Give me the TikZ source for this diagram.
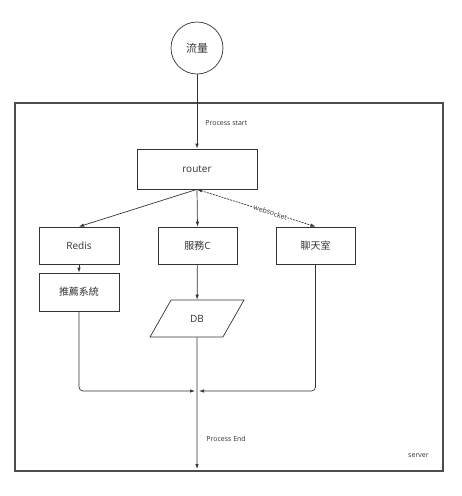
\documentclass[tikz,border=0pt]{standalone}
\usepackage{fontspec}
\setmainfont{Open Sans}
\newfontfamily\cjk{Noto Sans CJK TC}
\usetikzlibrary{shapes.geometric,arrows.meta}

\begin{document}
\begin{tikzpicture}[x=1pt,y=-1pt,
  line width=0.7pt, draw=black!80, >={Latex[length=5pt,width=3.5pt]},
  box/.style={draw=black!80, rectangle, minimum width=80, minimum height=37, font=\fontsize{10}{12}\selectfont, text=black!80},
  note/.style={font=\fontsize{7}{8}\selectfont, text=black!80, inner sep=0pt}]
\useasboundingbox (0,0) rectangle (462,496);
% server frame:
\draw[line width=1.3pt, black!70] (15,103) rectangle (443,471);
\node[note, anchor=east] (srv) at (429,456) {server};
% entry:
\node[draw=black!80, circle, minimum size=52, font=\cjk\fontsize{11}{12}\selectfont, text=black!80] (flow) at (197,48) {流量};
\node[box, minimum width=120, minimum height=40] (router) at (197,169) {router};
\node[note, anchor=west] (pstart) at (205,123) {Process start};
% services:
\node[box] (redis) at (79,245.5) {Redis};
\node[box, minimum width=79] (svc) at (197.5,245.5) {\cjk 服務\rmfamily C};
\node[box, minimum width=79] (chat) at (315.5,245.5) {\cjk 聊天室};
\node[box, minimum height=38] (rec) at (79,292) {\cjk 推薦系統};
\node[draw=black!80, trapezium, trapezium left angle=59, trapezium right angle=121, trapezium stretches=true, minimum width=94, minimum height=37, font=\fontsize{10}{12}\selectfont, text=black!80] (db) at (197,318.5) {DB};
% exit:
\coordinate (join) at (197,391);
\coordinate (out) at (197,469);
\node[note, anchor=west] (pend) at (206,439) {Process End};
% arrows:
\draw[->] (flow) -- (router);
\draw[->] (router.south) -- (redis.north);
\draw[->] (router.south) -- (svc.north);
\draw[<->, dashed, dash pattern=on 2pt off 1pt] (router.south) -- (chat.north)
  node[pos=0.62, sloped, fill=white, inner sep=0.5pt, font=\fontsize{7}{8}\selectfont, text=black!80] {websocket};
\draw[->] (redis) -- (rec);
\draw[->] (svc) -- (db);
\draw[->, rounded corners=4pt] (rec.south) |- ([xshift=-2]join);
\draw[->, rounded corners=4pt] (chat.south) |- ([xshift=2]join);
\draw[->] (db.south) -- (out);
\end{tikzpicture}
\end{document}
